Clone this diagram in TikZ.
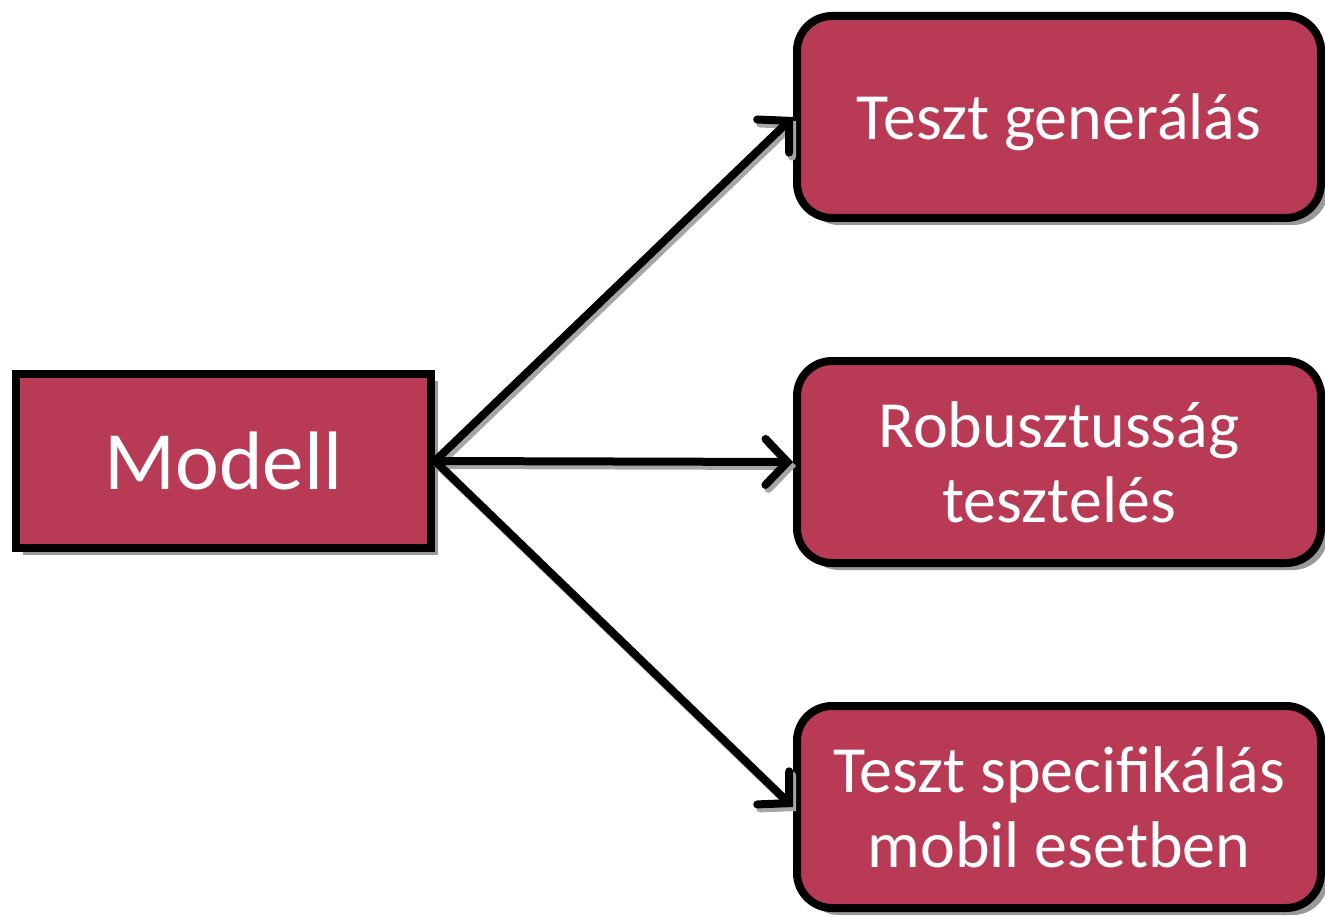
\documentclass[tikz,border=0pt]{standalone}
\usepackage{fontspec}
\setmainfont{Carlito}
\usepackage{tikz}
\usetikzlibrary{positioning,arrows.meta,shadows}

\definecolor{boxred}{HTML}{B93A55}

\tikzset{
  doboz/.style={draw=black, line width=8pt, fill=boxred, text=white,
    align=center, drop shadow={shadow xshift=7pt, shadow yshift=-7pt, fill=black!40, opacity=1}},
  kerek/.style={doboz, rounded corners=35pt, minimum width=524pt, minimum height=202pt,
    font=\fontsize{66}{75}\selectfont},
  nyil/.style={line width=8pt, line cap=round, -{Straight Barb[length=22pt, width=46pt, line cap=round]}},
  nyilarnyek/.style={nyil, draw=black!35, transform canvas={shift={(3pt,-4pt)}}}
}

\begin{document}
\begin{tikzpicture}[x=1pt, y=-1pt]
            \useasboundingbox (0,0) rectangle (1325,917);
            \node[doboz, minimum width=415pt, minimum height=174pt, font=\fontsize{83}{90}\selectfont] (modell) at (223.5,461) {Modell};
            \node[kerek, text depth=0pt] (gen) at (1059,117) {Teszt generálás};
            \node[kerek] (robusz) at (1059,462) {Robusztusság\\tesztelés};
            \node[kerek] (spec) at (1059,807) {Teszt specifikálás\\mobil esetben};
            % arnyek
            \draw[nyilarnyek] (modell.east) -- (gen.west);
            \draw[nyilarnyek] (modell.east) -- (robusz.west);
            \draw[nyilarnyek] (modell.east) -- (spec.west);
            % nyilak
            \draw[nyil] (modell.east) -- (gen.west);
            \draw[nyil] (modell.east) -- (robusz.west);
            \draw[nyil] (modell.east) -- (spec.west);
        \end{tikzpicture}
\end{document}
